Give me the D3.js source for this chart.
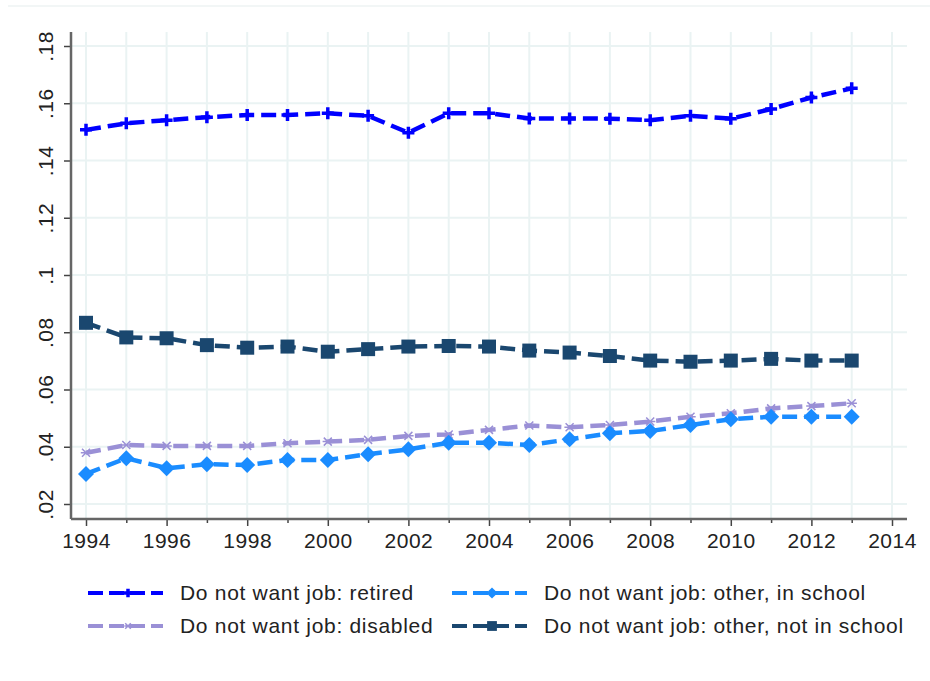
<!DOCTYPE html>
<html>
<head>
<meta charset="utf-8">
<script src="https://cdn.jsdelivr.net/npm/d3@7"></script>
<style>
  body { margin: 0; background: #fff; }
  svg { display: block; font-family: "Liberation Sans", Arial, sans-serif; }
</style>
</head>
<body>
<div id="chart"></div>
<script>
// dados
const years = d3.range(1994, 2014);
const retired = [0.1507, 0.1530, 0.1541, 0.1551, 0.1559, 0.1559, 0.1565, 0.1556, 0.1497, 0.1565,
                 0.1565, 0.1547, 0.1547, 0.1546, 0.1541, 0.1556, 0.1546, 0.1580, 0.1620, 0.1652];
const inSchool = [0.0305, 0.0360, 0.0325, 0.0339, 0.0336, 0.0354, 0.0354, 0.0374, 0.0391, 0.0414,
                  0.0414, 0.0406, 0.0426, 0.0447, 0.0455, 0.0476, 0.0496, 0.0505, 0.0505, 0.0505];
const disabled = [0.0379, 0.0406, 0.0403, 0.0403, 0.0403, 0.0412, 0.0418, 0.0424, 0.0438, 0.0443,
                  0.0459, 0.0474, 0.0468, 0.0476, 0.0488, 0.0505, 0.0517, 0.0534, 0.0542, 0.0552];
const notInSchool = [0.0833, 0.0782, 0.0779, 0.0755, 0.0746, 0.0750, 0.0732, 0.0741, 0.0750, 0.0752,
                     0.0750, 0.0736, 0.0729, 0.0717, 0.0701, 0.0697, 0.0701, 0.0707, 0.0701, 0.0701];
const yTicks = [0.02, 0.04, 0.06, 0.08, 0.10, 0.12, 0.14, 0.16, 0.18];
const xTicks = d3.range(1994, 2015, 2);
const xMinor = d3.range(1995, 2014, 2);

const series = [
    { name: "Do not want job: retired", values: retired, color: "#0000ff", symbol: "plus" },
    { name: "Do not want job: other, in school", values: inSchool, color: "#1a8cff", symbol: "diamond" },
    { name: "Do not want job: disabled", values: disabled, color: "#9a90d6", symbol: "x" },
    { name: "Do not want job: other, not in school", values: notInSchool, color: "#1a476f", symbol: "square" }
];

const width = 930, height = 681;
const plotLeft = 71, plotRight = 907, plotTop = 32, plotBottom = 519;

const svg = d3.select("#chart").append("svg")
    .attr("width", width)
    .attr("height", height);

// linha fina no topo
svg.append("line")
    .attr("x1", 8).attr("x2", width).attr("y1", 6).attr("y2", 6)
    .attr("stroke", "#eef3f3").attr("stroke-width", 1.5);

const x = d3.scaleLinear().domain([1994, 2014]).range([86, 892]);
const y = d3.scaleLinear().domain([0.02, 0.18]).range([504, 46]);

// grade
const grid = svg.append("g").attr("stroke", "#eaf3f3").attr("stroke-width", 2);
grid.selectAll("line.v")
    .data(d3.range(1994, 2015))
    .join("line")
    .attr("class", "v")
    .attr("x1", d => x(d)).attr("x2", d => x(d))
    .attr("y1", plotTop).attr("y2", plotBottom);
grid.selectAll("line.h")
    .data(yTicks)
    .join("line")
    .attr("class", "h")
    .attr("x1", plotLeft).attr("x2", plotRight)
    .attr("y1", d => y(d)).attr("y2", d => y(d));

// eixos
const fmt = d => d3.format(".2~f")(d).replace(/^0/, "");

const xAxis = svg.append("g")
    .attr("transform", `translate(0,${plotBottom})`)
    .call(d3.axisBottom(x).tickValues(xTicks).tickFormat(d3.format("d")).tickSize(7).tickPadding(7));
const xAxisMinor = svg.append("g")
    .attr("transform", `translate(0,${plotBottom})`)
    .call(d3.axisBottom(x).tickValues(xMinor).tickFormat("").tickSize(4));

const yAxis = svg.append("g")
    .attr("transform", `translate(${plotLeft},0)`)
    .call(d3.axisLeft(y).tickValues(yTicks).tickFormat(fmt).tickSize(7));

[xAxis, xAxisMinor, yAxis].forEach(g => {
    g.select(".domain").remove();
    g.selectAll(".tick line").attr("stroke", "#444").attr("stroke-width", 1.5);
    g.selectAll("text").attr("font-size", 21).attr("fill", "#222")
        .attr("letter-spacing", 0.5)
        .attr("font-family", "'Liberation Sans', Arial, sans-serif");
});

yAxis.selectAll(".tick text")
    .attr("transform", "rotate(-90)")
    .attr("text-anchor", "middle")
    .attr("x", 0)
    .attr("y", -18)
    .attr("dy", 0);

svg.append("line")
    .attr("x1", plotLeft).attr("x2", plotRight).attr("y1", plotBottom).attr("y2", plotBottom)
    .attr("stroke", "#666").attr("stroke-width", 2.5);
svg.append("line")
    .attr("x1", plotLeft).attr("x2", plotLeft).attr("y1", plotTop).attr("y2", plotBottom)
    .attr("stroke", "#666").attr("stroke-width", 2.5);

// marcadores
function drawMarker(g, type, color, s) {
    if (type === "plus") {
        g.append("path")
            .attr("d", `M${-s},0H${s}M0,${-s}V${s}`)
            .attr("stroke", color).attr("stroke-width", 3.5).attr("fill", "none");
    } else if (type === "x") {
        g.append("path")
            .attr("d", `M${-s},${-s}L${s},${s}M${-s},${s}L${s},${-s}M${-s * 1.3},0H${s * 1.3}`)
            .attr("stroke", color).attr("stroke-width", 1.5).attr("fill", "none");
    } else if (type === "diamond") {
        g.append("path")
            .attr("d", `M0,${-s}L${s},0L0,${s}L${-s},0Z`)
            .attr("fill", color);
    } else if (type === "square") {
        g.append("rect")
            .attr("x", -s).attr("y", -s).attr("width", 2 * s).attr("height", 2 * s)
            .attr("fill", color);
    }
}

const markerSize = { plus: 6, x: 4, diamond: 8, square: 7 };

const line = d3.line()
    .x((d, i) => x(years[i]))
    .y(d => y(d));

// desenha na ordem: não-escola por baixo, depois as outras
[series[3], series[2], series[1], series[0]].forEach(s => {
    svg.append("path")
        .datum(s.values)
        .attr("d", line)
        .attr("fill", "none")
        .attr("stroke", s.color)
        .attr("stroke-width", 4.5)
        .attr("stroke-dasharray", "15,7");

    svg.append("g")
        .selectAll("g")
        .data(s.values)
        .join("g")
        .attr("transform", (d, i) => `translate(${x(years[i])},${y(d)})`)
        .each(function () { drawMarker(d3.select(this), s.symbol, s.color, markerSize[s.symbol]); });
});

// legenda
const legendPos = [
    { lx: 88, ty: 593 },
    { lx: 452, ty: 593 },
    { lx: 88, ty: 626 },
    { lx: 452, ty: 626 }
];

series.forEach((s, i) => {
    const p = legendPos[i];
    const g = svg.append("g").attr("transform", `translate(${p.lx},${p.ty})`);
    g.append("line")
        .attr("x1", 0).attr("x2", 75)
        .attr("stroke", s.color).attr("stroke-width", 4)
        .attr("stroke-dasharray", "15,6");
    const m = g.append("g").attr("transform", "translate(40,0)");
    drawMarker(m, s.symbol, s.color, markerSize[s.symbol] * 0.7);
    g.append("text")
        .attr("x", 92)
        .attr("dy", "0.35em")
        .attr("font-size", 21)
        .attr("letter-spacing", 0.7)
        .attr("fill", "#222")
        .text(s.name);
});
</script>
</body>
</html>
